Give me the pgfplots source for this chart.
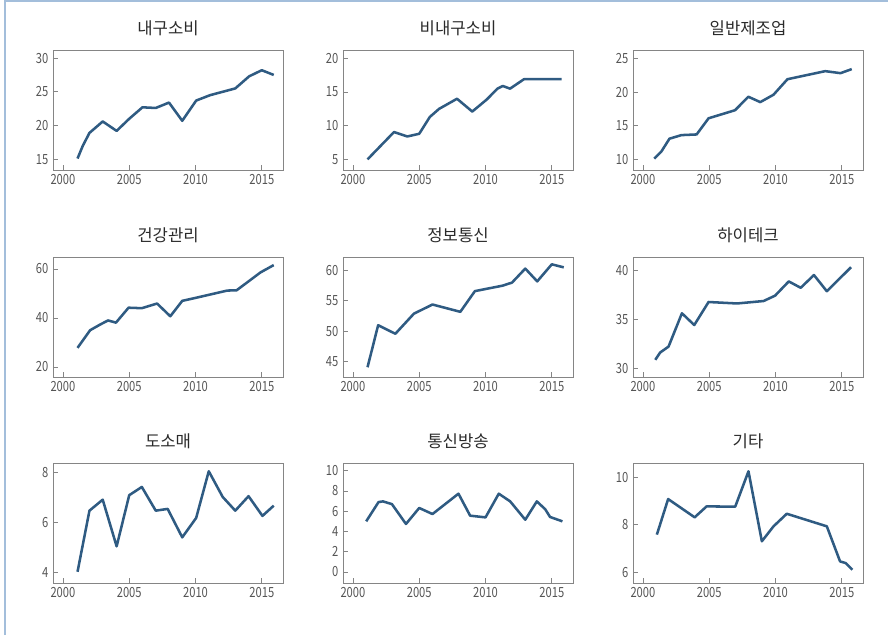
\documentclass[border=0pt]{standalone}
\usepackage{fontspec}
\usepackage{pgfplots}
\pgfplotsset{compat=1.18}
\setmainfont{Noto Sans CJK KR}
\newfontfamily\tickfont[FakeStretch=0.8]{Noto Sans CJK KR}
\definecolor{serie}{HTML}{2F5B82}
\definecolor{boxgray}{HTML}{858585}
\definecolor{labgray}{HTML}{555555}
\definecolor{titgray}{HTML}{2A2A2A}
\definecolor{frameblue}{HTML}{A3BEDB}
\pgfplotsset{
  panel/.style={
    anchor=north west,
    scale only axis, width=172.5pt, height=90pt,
    xmin=1999.25, xmax=2016.6,
    xtick={2000,2005,2010,2015},
    xtick pos=left, ytick pos=left,
    tick align=inside,
    major tick length=3.5pt,
    axis line style={draw=boxgray, line width=0.65pt},
    every tick/.style={draw=boxgray, line width=0.55pt},
    /pgf/number format/assume math mode=true,
    /pgf/number format/1000 sep={},
    tick label style={font=\tickfont\fontsize{10.5}{12}\selectfont, text=labgray},
    title style={font=\fontsize{12.5}{14}\selectfont, text=titgray, yshift=1pt},
    cycle list={{draw=serie, mark=none}},
    every axis plot post/.append style={line width=1.9pt, line join=round},
  }
}
\begin{document}
\begin{tikzpicture}
\path[use as bounding box] (0,0) rectangle (666pt,-476.25pt);
\draw[frameblue, line width=1.5pt] (3.75pt,-476.25pt) -- (3.75pt,-0.75pt) -- (666pt,-0.75pt);

% Row 1
\begin{axis}[panel, at={(39.75pt,-37.5pt)}, title={내구소비},
  ymin=13.4, ymax=31.2, ytick={15,20,25,30}]
\addplot coordinates {(2001.1,15.1) (2001.5,17.0) (2002.0,18.9) (2003.0,20.6) (2004.05,19.2) (2005.0,21.0) (2006.0,22.7) (2007.0,22.6) (2008.0,23.4) (2009.0,20.7) (2010.05,23.7) (2011.1,24.5) (2013.0,25.5) (2014.05,27.3) (2015.0,28.2) (2015.9,27.5)};
\end{axis}

\begin{axis}[panel, at={(257.25pt,-37.5pt)}, title={비내구소비},
  ymin=3.42, ymax=21.24, ytick={5,10,15,20}]
\addplot coordinates {(2001.1,5.0) (2003.1,9.06) (2004.1,8.4) (2005.0,8.8) (2005.8,11.3) (2006.5,12.5) (2007.85,14.0) (2009.0,12.1) (2010.1,13.9) (2010.9,15.5) (2011.3,15.9) (2011.85,15.5) (2012.9,16.9) (2015.75,16.9)};
\end{axis}

\begin{axis}[panel, at={(474.75pt,-37.5pt)}, title={일반제조업},
  ymin=8.42, ymax=26.24, ytick={10,15,20,25}]
\addplot coordinates {(2000.85,10.1) (2001.4,11.2) (2002.0,13.07) (2002.9,13.6) (2004.05,13.7) (2004.95,16.1) (2006.95,17.3) (2007.95,19.3) (2008.85,18.5) (2009.85,19.6) (2010.9,21.9) (2013.75,23.1) (2014.9,22.8) (2015.75,23.4)};
\end{axis}

% Row 2
\begin{axis}[panel, at={(39.75pt,-192.75pt)}, title={건강관리},
  ymin=15.9, ymax=64.9, ytick={20,40,60}]
\addplot coordinates {(2001.1,27.8) (2002.05,35.0) (2002.8,37.3) (2003.4,39.0) (2004.0,38.1) (2004.95,44.2) (2005.95,44.0) (2007.1,45.9) (2008.1,40.7) (2009.0,47.0) (2010.0,48.2) (2012.4,51.2) (2013.1,51.3) (2014.9,58.6) (2015.9,61.6)};
\end{axis}

\begin{axis}[panel, at={(257.25pt,-192.75pt)}, title={정보통신},
  ymin=42.5, ymax=62.2, ytick={45,50,55,60}]
\addplot coordinates {(2001.1,44.1) (2001.9,51.0) (2003.2,49.6) (2004.6,52.9) (2006.0,54.4) (2008.1,53.2) (2009.2,56.6) (2011.3,57.5) (2012.0,58.0) (2013.0,60.3) (2013.9,58.2) (2015.0,61.0) (2015.9,60.5)};
\end{axis}

\begin{axis}[panel, at={(474.75pt,-192.75pt)}, title={하이테크},
  ymin=29.1, ymax=41.34, ytick={30,35,40}]
\addplot coordinates {(2000.93,30.85) (2001.3,31.6) (2001.93,32.2) (2002.94,35.6) (2003.87,34.4) (2004.95,36.75) (2007.1,36.6) (2009.1,36.85) (2009.97,37.4) (2011.0,38.85) (2011.9,38.2) (2012.9,39.5) (2013.87,37.85) (2015.7,40.3)};
\end{axis}

% Row 3
\begin{axis}[panel, at={(39.75pt,-347.25pt)}, title={도소매},
  ymin=3.56, ymax=8.37, ytick={4,6,8}]
\addplot coordinates {(2001.1,4.01) (2002.0,6.46) (2003.0,6.9) (2004.05,5.03) (2005.0,7.08) (2005.95,7.41) (2007.0,6.46) (2007.9,6.53) (2009.0,5.39) (2010.05,6.17) (2011.0,8.04) (2012.05,7.01) (2013.0,6.46) (2014.0,7.04) (2015.05,6.25) (2015.9,6.66)};
\end{axis}

\begin{axis}[panel, at={(257.25pt,-347.25pt)}, title={통신방송},
  ymin=-1.09, ymax=10.76, ytick={0,2,4,6,8,10}]
\addplot coordinates {(2001.0,5.0) (2001.93,6.9) (2002.26,6.97) (2002.94,6.7) (2004.0,4.74) (2005.0,6.32) (2006.0,5.72) (2007.96,7.73) (2008.84,5.56) (2010.0,5.39) (2011.0,7.73) (2011.86,6.97) (2013.0,5.16) (2013.87,6.97) (2014.5,6.2) (2014.87,5.43) (2015.8,5.0)};
\end{axis}

\begin{axis}[panel, at={(474.75pt,-347.25pt)}, title={기타},
  ymin=5.54, ymax=10.6, ytick={6,8,10}]
\addplot coordinates {(2001.05,7.58) (2001.9,9.08) (2003.9,8.31) (2004.8,8.77) (2006.96,8.76) (2007.96,10.25) (2008.97,7.3) (2009.85,7.93) (2010.85,8.46) (2013.87,7.93) (2014.87,6.45) (2015.3,6.38) (2015.8,6.1)};
\end{axis}
\end{tikzpicture}
\end{document}
